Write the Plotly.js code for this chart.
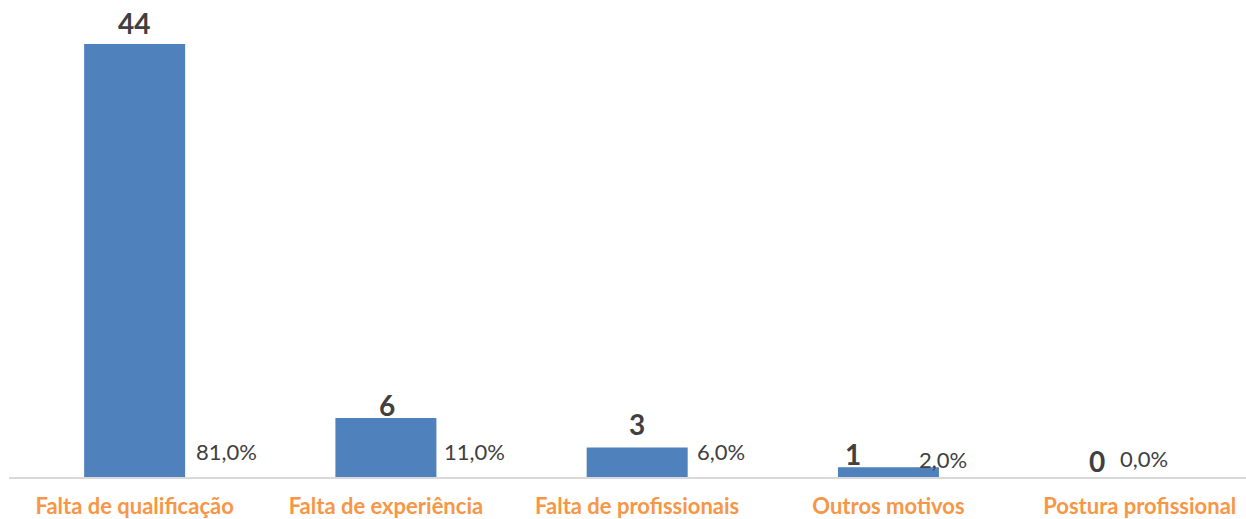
<!DOCTYPE html>
<html>
<head>
<meta charset="utf-8">
<script src="https://cdn.plot.ly/plotly-3.0.1.min.js"></script>
<style>html,body{margin:0;padding:0;background:#fff;}#chart{width:1246px;height:519px;}</style>
</head>
<body>
<div id="chart"></div>
<script>
// ---- data ----
var categories = ["Falta de qualificação", "Falta de experiência", "Falta de profissionais", "Outros motivos", "Postura profissional"];
var counts = [44, 6, 3, 1, 0];
var percents = ["81,0%", "11,0%", "6,0%", "2,0%", "0,0%"];

// ---- label placement (pixel offsets, styling only) ----
var countDx = [-1, 1, 0, -35, -43];
var countDy = [21, 13, 23, 13, 16];
var pctDx = [92, 89, 84, 55, 4];
var pctDy = [26, 26, 26, 18, 19];

var xIdx = categories.map(function(_, i){ return i; });

var trace = {
  type: 'bar',
  x: xIdx,
  y: counts,
  width: 0.402,
  marker: {color: '#4F81BD', line: {width: 0}},
  hoverinfo: 'skip'
};

var annotations = [];
counts.forEach(function(v, i){
  annotations.push({
    x: i, y: v, xref: 'x', yref: 'y',
    text: String(v), showarrow: false,
    xanchor: 'center', yanchor: 'middle',
    xshift: countDx[i], yshift: countDy[i],
    font: {family: 'Lato, sans-serif', size: 28, color: '#404040', weight: 'bold'}
  });
  annotations.push({
    x: i, y: 0, xref: 'x', yref: 'y',
    text: percents[i], showarrow: false,
    xanchor: 'center', yanchor: 'middle',
    xshift: pctDx[i], yshift: pctDy[i],
    font: {family: 'Lato, sans-serif', size: 22, color: '#404040'}
  });
});

var layout = {
  width: 1246, height: 519,
  margin: {l: 9, r: 0, t: 0, b: 42},
  paper_bgcolor: '#ffffff', plot_bgcolor: '#ffffff',
  showlegend: false,
  xaxis: {
    range: [-0.5, 4.423],
    tickmode: 'array', tickvals: xIdx, ticktext: categories,
    showline: true, linecolor: '#d9d9d9', linewidth: 1.5,
    showgrid: false, zeroline: false, ticks: '',
    tickfont: {family: 'Lato, sans-serif', size: 22, color: '#F79646', weight: 'bold'},
    ticklabelstandoff: 9,
    fixedrange: true
  },
  yaxis: {
    range: [0, 48.48],
    visible: false, showgrid: false, zeroline: false, fixedrange: true
  },
  annotations: annotations
};

Plotly.newPlot('chart', [trace], layout, {displayModeBar: false, staticPlot: true});
</script>
</body>
</html>
